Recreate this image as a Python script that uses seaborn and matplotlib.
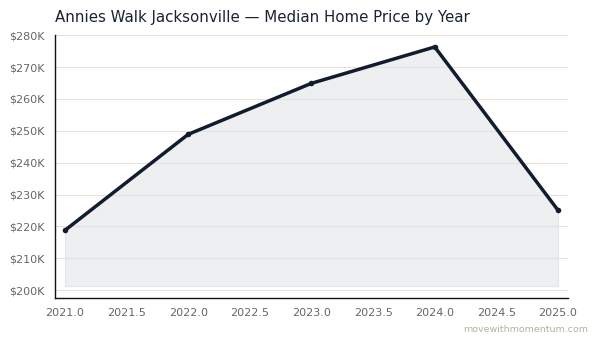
import pandas as pd
import matplotlib.pyplot as plt
import seaborn as sns
from matplotlib.ticker import FuncFormatter

years = [2021, 2022, 2023, 2024, 2025]
prices = [218800, 248900, 264900, 276300, 225100]

df = pd.DataFrame({"year": years, "price": prices})

sns.set_style("white")
plt.rcParams["font.family"] = "sans-serif"
plt.rcParams["font.sans-serif"] = ["DejaVu Sans"]

fig, ax = plt.subplots(figsize=(5.99, 3.43), dpi=100)
fig.subplots_adjust(left=0.092, right=0.948, top=0.898, bottom=0.131)

# shaded area down to a bit under the lowest year
base = min(prices) * 0.92
ax.fill_between(df["year"], df["price"], base, color="#dfe2e6", alpha=0.55,
                edgecolor="#d5d8dc", linewidth=0.8)
sns.lineplot(data=df, x="year", y="price", ax=ax, color="#111c2e", linewidth=2.5,
             marker="o", markersize=4, markeredgewidth=0)

ax.set_xmargin(0.02)
ax.yaxis.set_major_formatter(FuncFormatter(lambda v, p: f"${v/1000:.0f}K"))
ax.grid(axis="y", color="#e6e2d8", linewidth=0.8)
ax.set_axisbelow(True)
ax.set_xlabel("")
ax.set_ylabel("")
sns.despine(ax=ax)
for s in ["left", "bottom"]:
    ax.spines[s].set_color("#111111")
    ax.spines[s].set_linewidth(1.0)
ax.tick_params(axis="both", colors="#666666", labelsize=8, length=4, width=0.8)
ax.tick_params(axis="both", color="#222222")
ax.set_title("Annies Walk Jacksonville — Median Home Price by Year", loc="left",
             fontsize=10.8, color="#1a2233", pad=9)
fig.text(0.982, 0.025, "movewithmomentum.com", ha="right", va="bottom",
         fontsize=6.8, color="#b8b0a0")

fig.savefig("out.png", dpi=100)
